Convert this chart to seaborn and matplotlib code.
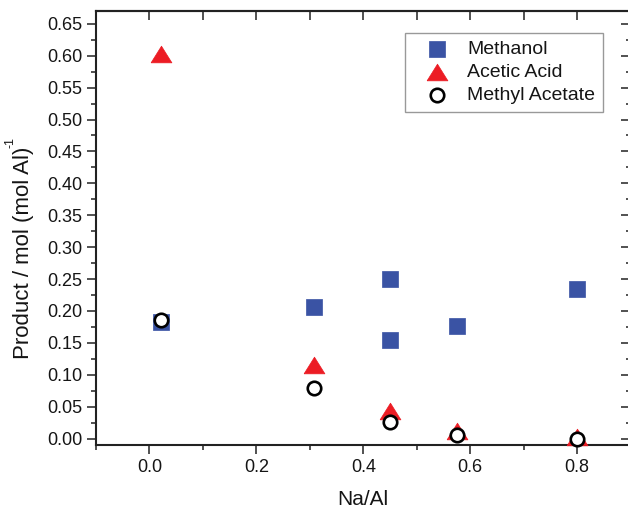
import matplotlib
matplotlib.use('Agg')
import matplotlib.pyplot as plt
import seaborn as sns
import pandas as pd
from matplotlib.ticker import MultipleLocator, FormatStrFormatter

# Data
methanol_x = [0.022, 0.308, 0.450, 0.450, 0.576, 0.800]
methanol_y = [0.182, 0.206, 0.250, 0.154, 0.177, 0.234]
acetic_x = [0.022, 0.308, 0.450, 0.576, 0.800]
acetic_y = [0.603, 0.115, 0.044, 0.012, 0.003]
methyl_x = [0.022, 0.308, 0.450, 0.576, 0.800]
methyl_y = [0.186, 0.079, 0.026, 0.006, 0.000]
series_names = ["Methanol", "Acetic Acid", "Methyl Acetate"]
x_ticks = [0.0, 0.2, 0.4, 0.6, 0.8]
y_ticks = [0.00, 0.05, 0.10, 0.15, 0.20, 0.25, 0.30, 0.35, 0.40, 0.45, 0.50, 0.55, 0.60, 0.65]

sns.set_style("ticks")
plt.rcParams['font.family'] = ['Liberation Sans', 'DejaVu Sans']

TXT = '#151515'
W, H = 628, 509
fig = plt.figure(figsize=(W / 100, H / 100), dpi=100)
left, right, top, bottom = 96, 630.5, 11, 445
ax = fig.add_axes([left / W, 1 - bottom / H, (right - left) / W, (bottom - top) / H])

df_m = pd.DataFrame({"x": methanol_x, "y": methanol_y})
df_a = pd.DataFrame({"x": acetic_x, "y": acetic_y})
df_e = pd.DataFrame({"x": methyl_x, "y": methyl_y})

tri = [(-1, -0.8), (1, -0.8), (0, 0.8), (-1, -0.8)]

sns.scatterplot(data=df_m, x="x", y="y", ax=ax, marker="s", s=128,
                color="#3A53A4", edgecolor="#3A53A4", linewidth=0.5,
                label=series_names[0], zorder=3, clip_on=False)
sns.scatterplot(data=df_a, x="x", y="y", ax=ax, marker=tri, s=225,
                color="#EC1C24", edgecolor="#EC1C24", linewidth=0.5,
                label=series_names[1], zorder=4, clip_on=False)
sns.scatterplot(data=df_e, x="x", y="y", ax=ax, marker="o", s=94,
                color="white", edgecolor="black", linewidth=1.9,
                label=series_names[2], zorder=5, clip_on=False)

ax.set_xlim(-0.1, 0.9)
ax.set_ylim(-0.01, 0.67)
ax.set_xticks(x_ticks)
ax.set_yticks(y_ticks)
ax.xaxis.set_major_formatter(FormatStrFormatter('%.1f'))
ax.yaxis.set_major_formatter(FormatStrFormatter('%.2f'))
ax.xaxis.set_minor_locator(MultipleLocator(0.1))
ax.yaxis.set_minor_locator(MultipleLocator(0.025))

for s in ax.spines.values():
    s.set_linewidth(1.5)
    s.set_color('#222222')

ax.tick_params(axis='both', which='major', labelsize=13, length=6.5, width=1.1,
               color='#222222', labelcolor=TXT)
ax.tick_params(axis='both', which='minor', length=3.5, width=1.1, color='#222222')
ax.tick_params(axis='both', which='both', direction='out')

# inward ticks on top and right
secx = ax.secondary_xaxis('top')
secx.set_xticks(x_ticks)
secx.xaxis.set_minor_locator(MultipleLocator(0.1))
secx.tick_params(which='both', direction='in', labeltop=False, width=1.1,
                 color='#222222', length=6.5)
secx.spines['top'].set_linewidth(1.5)
secy = ax.secondary_yaxis('right')
secy.set_yticks(y_ticks)
secy.yaxis.set_minor_locator(MultipleLocator(0.025))
secy.tick_params(which='both', direction='in', labelright=False, width=1.1, color='#222222')
secy.tick_params(which='major', length=7)
secy.tick_params(which='minor', length=3.5)
ax.tick_params(top=False, right=False, which='both')

ax.set_xlabel("Na/Al", fontsize=15, color=TXT, labelpad=10)
ax.set_ylabel("Product / mol (mol Al)", fontsize=16, color=TXT)
ax.yaxis.set_label_coords((34 - left) / (right - left), (bottom - 253) / (bottom - top))
fig.text(5 / W, 1 - 148 / H, "-1", rotation=90, fontsize=9, color=TXT,
         ha='left', va='bottom')

leg = ax.legend(loc='upper right', bbox_to_anchor=(603 / W, 1 - 33 / H),
                bbox_transform=fig.transFigure, borderaxespad=0,
                fontsize=14, frameon=True, fancybox=False, framealpha=1,
                edgecolor='#999999', handlelength=2.5, handletextpad=0.3,
                borderpad=0.4, labelspacing=0.28, scatterpoints=1)
leg.get_frame().set_linewidth(1.0)
for t in leg.get_texts():
    t.set_color(TXT)

fig.savefig("out.png", dpi=100)
